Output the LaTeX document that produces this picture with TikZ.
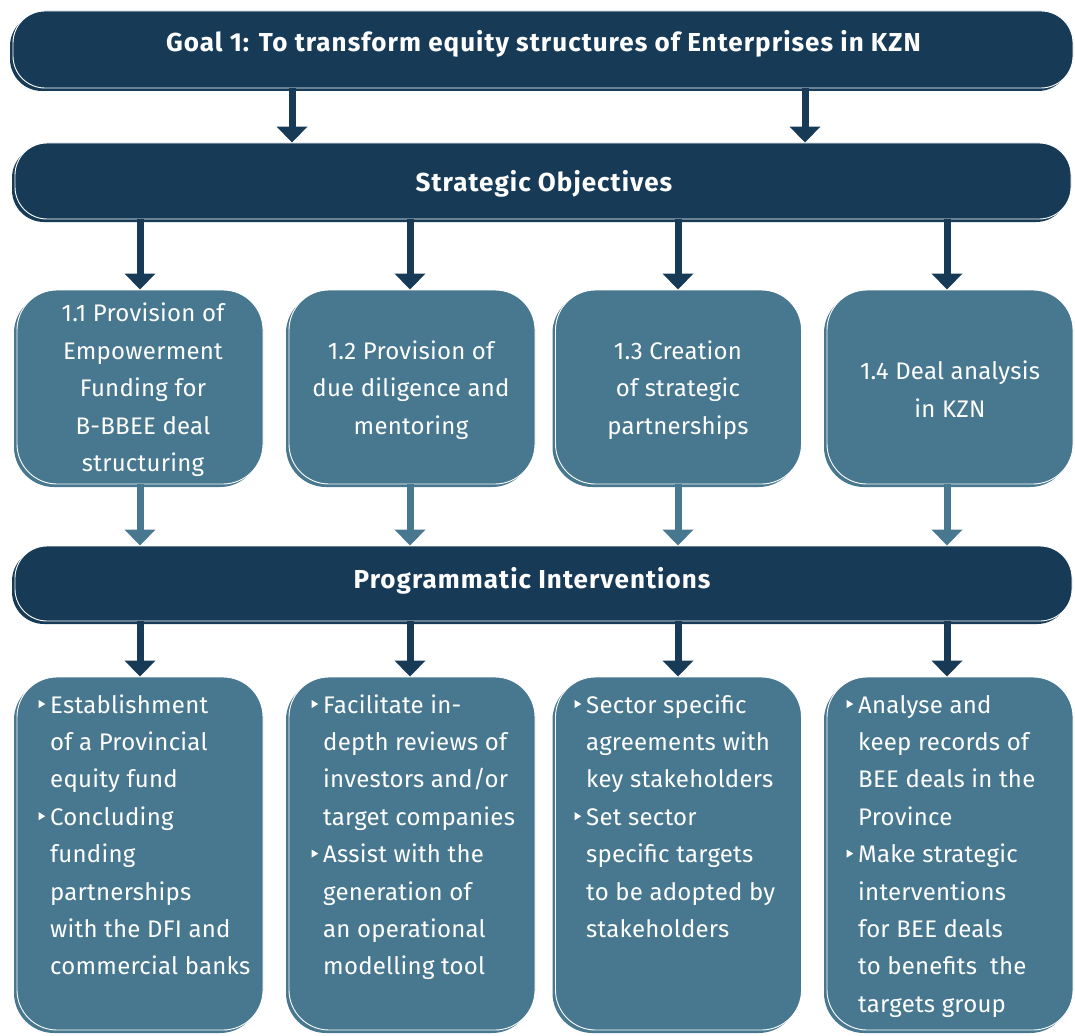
\documentclass[tikz,border=0pt]{standalone}
\usepackage{fontspec}
\setmainfont{Fira Sans}
\newfontface\headfont[LetterSpace=4]{Fira Sans Bold}
\newfontface\bodyfont[LetterSpace=1]{Fira Sans}
\usetikzlibrary{arrows.meta}
\definecolor{navy}{HTML}{173B57}
\definecolor{tealbox}{HTML}{47788F}
\newcommand\blt{\tikz[baseline=0pt]\fill[white] (0pt,5pt) -- (0pt,13pt) -- (6.5pt,9pt) -- cycle;}
\newcommand\bl{\llap{\blt\hspace{5pt}}}
\begin{document}
\begin{tikzpicture}[x=1pt,y=-1pt,
  shape3d/.style={draw=white, line width=0.9pt, fill=#1, inner sep=0pt,
    preaction={fill=#1, transform canvas={shift={(-3pt,-3pt)}}}},
  barbox/.style={shape3d=navy, rounded corners=32pt},
  objbox/.style={shape3d=tealbox, rounded corners=40pt, minimum width=246pt, minimum height=194pt},
  actbox/.style={shape3d=tealbox, rounded corners=40pt, minimum width=246pt, minimum height=353pt},
  headtxt/.style={text=white, font=\fontsize{26}{30}\headfont, inner sep=0pt, anchor=base},
  objtxt/.style={text=white, align=center, font=\fontsize{24}{37.5}\bodyfont, inner sep=0pt},
  acttxt/.style={text=white, align=left, font=\fontsize{24}{37.4}\bodyfont, inner sep=0pt, anchor=base west},
  arrd/.style={draw=navy, line width=7pt, -{Triangle[width=30pt,length=16pt]}},
  arrl/.style={draw=tealbox, line width=7pt, -{Triangle[width=30pt,length=16pt]}}]
\useasboundingbox (0,0) rectangle (1075,1035);
\fill[white] (0,0) rectangle (1075,1035);

% bars
\node[barbox, minimum width=1060pt, minimum height=77pt] (goal) at (543,49.5) {};
\node[barbox, minimum width=1056pt, minimum height=76pt] (so) at (543,181) {};
\node[barbox, minimum width=1057pt, minimum height=75pt] (pi) at (543.5,583.5) {};
\node[headtxt] (goaltxt) at (543.5,52) {Goal 1: To transform equity structures of Enterprises in KZN};
\node[headtxt] (sotxt) at (544,192) {Strategic Objectives};
\node[headtxt] (pitxt) at (532,588) {Programmatic Interventions};

% objective boxes
\node[objbox] (o1) at (140,387) {};
\node[objbox] (o2) at (412,387) {};
\node[objbox] (o3) at (678.5,387) {};
\node[objbox] (o4) at (950,387) {};
\node[objtxt] (o1t) at (143,390) {1.1 Provision of\\Empowerment\\Funding for\\B-BBEE deal\\structuring};
\node[objtxt] (o2t) at (411,390) {1.2 Provision of\\due diligence and\\mentoring};
\node[objtxt] (o3t) at (678,390) {1.3 Creation\\of strategic\\partnerships};
\node[objtxt] (o4t) at (950,389) {1.4 Deal analysis\\in KZN};

% intervention boxes
\node[actbox] (p1) at (140,853.5) {};
\node[actbox] (p2) at (412,853.5) {};
\node[actbox] (p3) at (678.5,853.5) {};
\node[actbox] (p4) at (950,853.5) {};

% anchor = base of the last line
\node[acttxt] (t1) at (50,974.8) {\bl Establishment\\of a Provincial\\equity fund\\\bl Concluding\\funding\\partnerships\\with the DFI and\\commercial banks};
\node[acttxt] (t2) at (323,974.8) {\bl Facilitate in-\\depth reviews of\\investors and/or\\target companies\\\bl Assist with the\\generation of\\an operational\\modelling tool};
\node[acttxt] (t3) at (586,937.4) {\bl Sector specific\\agreements with\\key stakeholders\\\bl Set sector\\specific targets\\to be adopted by\\stakeholders};
\node[acttxt] (t4) at (858,1012.2) {\bl Analyse and\\keep records of\\BEE deals in the\\Province\\\bl Make strategic\\interventions\\for BEE deals\\to benefits~ the\\targets group};

% arrows
\coordinate (a1) at (292,0);
\coordinate (a2) at (805,0);
\coordinate (c1) at (140,0);
\coordinate (c2) at (410,0);
\coordinate (c3) at (678,0);
\coordinate (c4) at (947,0);
\draw[arrd] (goal.south -| a1) -- (so.north -| a1);
\draw[arrd] (goal.south -| a2) -- (so.north -| a2);
\foreach \i in {1,...,4} {
  \draw[arrd] (so.south -| c\i) -- (o\i.north -| c\i);
  \draw[arrl] (o\i.south -| c\i) -- (pi.north -| c\i);
  \draw[arrd] (pi.south -| c\i) -- (p\i.north -| c\i);
}
\end{tikzpicture}
\end{document}
